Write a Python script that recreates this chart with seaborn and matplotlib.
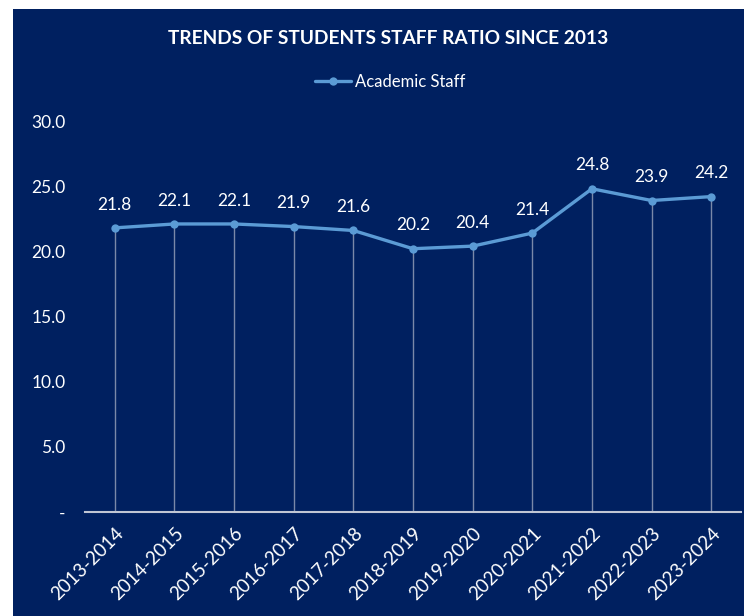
import matplotlib
matplotlib.use("Agg")
import matplotlib.pyplot as plt
import seaborn as sns
import pandas as pd
from matplotlib.patches import Rectangle
from matplotlib.ticker import FuncFormatter, MultipleLocator

years = ["2013-2014", "2014-2015", "2015-2016", "2016-2017", "2017-2018", "2018-2019",
         "2019-2020", "2020-2021", "2021-2022", "2022-2023", "2023-2024"]
academic_staff = [21.8, 22.1, 22.1, 21.9, 21.6, 20.2, 20.4, 21.4, 24.8, 23.9, 24.2]
series_name = "Academic Staff"
title = "TRENDS OF STUDENTS STAFF RATIO SINCE 2013"

NAVY = "#002060"
LINE = "#5b9bd5"
TEXT = "#ffffff"
DROP = "#7a88a8"

sns.set_theme(style="white")
plt.rcParams["font.family"] = ["Lato", "DejaVu Sans"]

df = pd.DataFrame({"year": years, "value": academic_staff, "series": series_name})

fig = plt.figure(figsize=(7.44, 6.16), dpi=100)
fig.patch.set_facecolor("white")
bg = Rectangle((13 / 744, 0), 1 - 13 / 744, (616 - 9) / 616,
               transform=fig.transFigure, facecolor=NAVY, edgecolor="none", zorder=-10)
fig.add_artist(bg)

ax = fig.add_axes([85 / 744, (616 - 512) / 616, (741 - 85) / 744, (512 - 121) / 616])
ax.set_zorder(1)
ax.patch.set_alpha(0)

xs = list(range(len(years)))
ax.vlines(xs, 0, academic_staff, colors=DROP, linewidth=1.0, zorder=1)

sns.lineplot(data=df, x=xs, y="value", hue="series", palette=[LINE], marker="o",
             markersize=6, markeredgewidth=0, linewidth=2.4, ax=ax, zorder=3)

for x, v in zip(xs, academic_staff):
    ax.annotate(f"{v:.1f}", (x, v), xytext=(0, 11), textcoords="offset points",
                ha="center", va="bottom", color=TEXT, fontsize=12.5)

ax.set_xlim(-0.5, len(years) - 0.5)
ax.set_ylim(0, 30)
ax.set_xticks(xs)
ax.set_xticklabels(years, rotation=45, ha="right", rotation_mode="anchor", color=TEXT, fontsize=13.5)
ax.yaxis.set_major_locator(MultipleLocator(5))
ax.yaxis.set_major_formatter(FuncFormatter(lambda v, p: "-" if v == 0 else f"{v:.1f}"))
for lbl in ax.get_yticklabels():
    lbl.set_color(TEXT)
    lbl.set_fontsize(12.5)
ax.tick_params(axis="both", length=0)
ax.tick_params(axis="y", pad=14)
ax.tick_params(axis="x", pad=9)
ax.set_xlabel("")
ax.set_ylabel("")
for s in ["top", "right", "left"]:
    ax.spines[s].set_visible(False)
ax.spines["bottom"].set_color("#c0c6d4")
ax.spines["bottom"].set_linewidth(1.5)

leg = ax.legend(loc="center", bbox_to_anchor=(390 / 744, 1 - 82 / 616), bbox_transform=fig.transFigure,
                frameon=False, fontsize=12, handlelength=2.2, handletextpad=0.2)
for t in leg.get_texts():
    t.set_color(TEXT)

fig.text(388 / 744, 1 - 38 / 616, title, ha="center", va="center", color=TEXT,
         fontsize=13.8, fontweight="bold")

fig.savefig("out.png", dpi=100, facecolor=fig.get_facecolor())
